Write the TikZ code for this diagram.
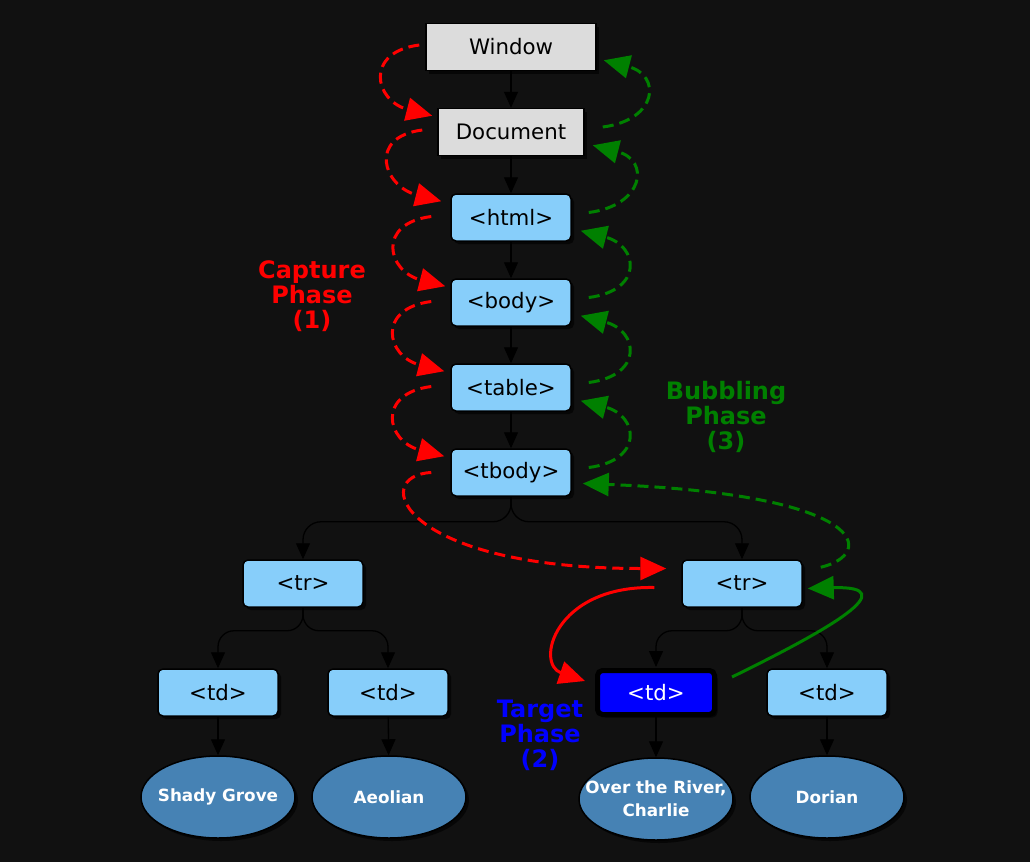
\documentclass[tikz,border=0pt]{standalone}
\usepackage{fontspec}
\setmainfont{DejaVu Sans}
\usetikzlibrary{arrows.meta,shapes.geometric,shadows}
\definecolor{bg}{HTML}{111111}
\definecolor{boxgray}{HTML}{DCDCDC}
\definecolor{skyb}{HTML}{87CEFA}
\definecolor{steel}{HTML}{4682B4}
\definecolor{grn}{HTML}{008000}
\begin{document}
\begin{tikzpicture}[x=1pt,y=-1pt,
  shad/.style={drop shadow={shadow xshift=3pt,shadow yshift=-3pt,fill=black,opacity=.6}},
  basebox/.style={draw=black,line width=1.5pt,minimum height=47pt,inner sep=0pt,
    font=\fontsize{21.3}{25}\selectfont,text=black,shad},
  graybox/.style={basebox,fill=boxgray,minimum width=#1},
  bluebox/.style={basebox,fill=skyb,rounded corners=5pt,minimum width=120pt},
  targetbox/.style={basebox,fill=blue,text=white,rounded corners=5pt,line width=5pt,
    minimum width=117pt,minimum height=44pt},
  leaf/.style={ellipse,draw=black,line width=1.5pt,fill=steel,minimum width=154pt,
    minimum height=82pt,inner ysep=0pt,inner xsep=-8pt,text=white,align=center,shad,
    font=\bfseries\fontsize{16.8}{23}\selectfont},
  phase/.style={align=center,font=\bfseries\fontsize{24}{25}\selectfont,inner sep=0pt},
  tree/.style={black,line width=1.3pt,-{Triangle[length=16pt,width=14pt]}},
  capdash/.style={red,line width=3pt,dash pattern=on 11pt off 6pt,-{Triangle[length=26pt,width=23pt]}},
  bubdash/.style={grn,line width=3pt,dash pattern=on 11pt off 6pt,-{Triangle[length=26pt,width=23pt]}},
  capsolid/.style={red,line width=3pt,-{Triangle[length=26pt,width=23pt]}},
  bubsolid/.style={grn,line width=3pt,-{Triangle[length=26pt,width=23pt]}}]
\fill[bg] (0,0) rectangle (1030,862);
% nodes
\node[graybox=170pt] (win) at (511,47) {Window};
\node[graybox=146pt] (doc) at (511,132) {Document};
\node[bluebox] (html) at (511,217.5) {<html>};
\node[bluebox] (body) at (511,302.5) {<body>};
\node[bluebox] (table) at (511,387.5) {<table>};
\node[bluebox] (tbody) at (511,472.5) {<tbody>};
\node[bluebox] (trL) at (303,583.5) {<tr>};
\node[bluebox] (trR) at (742,583.5) {<tr>};
\node[bluebox] (tdA) at (218,692.5) {<td>};
\node[bluebox] (tdB) at (388,692.5) {<td>};
\node[targetbox] (tdT) at (656,692.5) {<td>};
\node[bluebox] (tdD) at (827,692.5) {<td>};
\node[leaf] (lA) at (218,797) {Shady Grove};
\node[leaf] (lB) at (389,797) {Aeolian};
\node[leaf,inner xsep=-18pt] (lT) at (656,799) {Over the River,\\Charlie};
\node[leaf] (lD) at (827,797) {Dorian};
% phase labels
\node[phase,text=red] (capl) at (312,296) {Capture\\Phase\\(1)};
\node[phase,text=grn] (bubl) at (726,417) {Bubbling\\Phase\\(3)};
\node[phase,text=blue] (tarl) at (540,735) {Target\\Phase\\(2)};
% tree edges
\draw[tree] (win) -- (doc);
\draw[tree] (doc) -- (html);
\draw[tree] (html) -- (body);
\draw[tree] (body) -- (table);
\draw[tree] (table) -- (tbody);
\draw[tree,rounded corners=18pt] (tbody.south) -- ++(0,25) -| (trL.north);
\draw[tree,rounded corners=18pt] (tbody.south) -- ++(0,25) -| (trR.north);
\draw[tree,rounded corners=16pt] (trL.south) -- ++(0,23) -| (tdA.north);
\draw[tree,rounded corners=16pt] (trL.south) -- ++(0,23) -| (tdB.north);
\draw[tree,rounded corners=16pt] (trR.south) -- ++(0,23) -| ([yshift=1pt]tdT.north);
\draw[tree,rounded corners=16pt] (trR.south) -- ++(0,23) -| (tdD.north);
\draw[tree] (tdA) -- (lA);
\draw[tree] (tdB) -- (lB);
\draw[tree] (tdT) -- (lT);
\draw[tree] (tdD) -- (lD);
% capture phase
\draw[capdash] ([xshift=-6pt,yshift=2pt]win.west) .. controls +(-55,7) and +(-58,-15) .. ([xshift=-5pt,yshift=-8pt]doc.north west);
\draw[capdash] ([xshift=-15pt,yshift=2pt]doc.west) .. controls +(-55,7) and +(-58,-15) .. ([xshift=-9pt,yshift=-8pt]html.north west);
\draw[capdash] ([xshift=-19pt,yshift=1pt]html.west) .. controls +(-55,7) and +(-58,-15) .. ([xshift=-5pt,yshift=-8pt]body.north west);
\draw[capdash] ([xshift=-19pt,yshift=1pt]body.west) .. controls +(-55,7) and +(-58,-15) .. ([xshift=-6pt,yshift=-8pt]table.north west);
\draw[capdash] ([xshift=-19pt,yshift=1pt]table.west) .. controls +(-55,7) and +(-58,-15) .. ([xshift=-6pt,yshift=-8pt]tbody.north west);
\draw[capdash] ([xshift=-19pt,yshift=0pt]tbody.west) .. controls +(-62,3) and +(-267,0) .. ([xshift=-15pt,yshift=15pt]trR.west);
% target phase
\draw[capsolid] ([xshift=-27pt,yshift=-4pt]trR.west) .. controls +(-100,-2) and +(-50,-17) .. ([xshift=-10pt,yshift=-13pt]tdT.north west);
\draw[bubsolid] ([xshift=15pt,yshift=-9pt]tdT.north east) .. controls +(98,-48) and +(98,-3) .. ([xshift=5pt,yshift=-5pt]trR.east);
% bubbling phase
\draw[bubdash] ([xshift=18pt,yshift=-8pt]trR.north east) .. controls +(55,-13) and +(288,11) .. ([xshift=11pt,yshift=-11pt]tbody.east);
\draw[bubdash] ([xshift=17pt,yshift=5pt]tbody.east) .. controls +(55,-7) and +(58,15) .. ([xshift=9pt,yshift=11pt]table.south east);
\draw[bubdash] ([xshift=17pt,yshift=5pt]table.east) .. controls +(55,-7) and +(58,15) .. ([xshift=9pt,yshift=11pt]body.south east);
\draw[bubdash] ([xshift=17pt,yshift=5pt]body.east) .. controls +(55,-7) and +(58,15) .. ([xshift=9pt,yshift=11pt]html.south east);
\draw[bubdash] ([xshift=17pt,yshift=5pt]html.east) .. controls +(55,-7) and +(58,15) .. ([xshift=8pt,yshift=11pt]doc.south east);
\draw[bubdash] ([xshift=18pt,yshift=5pt]doc.east) .. controls +(55,-7) and +(58,15) .. ([xshift=7pt,yshift=11pt]win.south east);
\end{tikzpicture}
\end{document}
